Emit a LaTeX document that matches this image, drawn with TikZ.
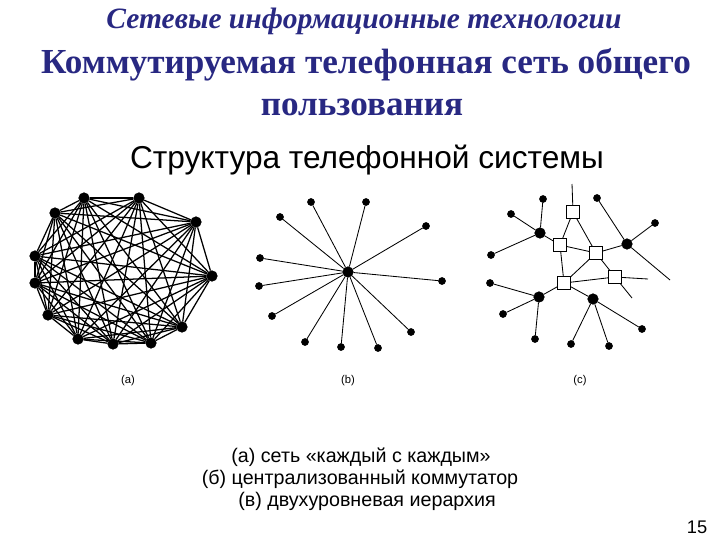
\documentclass[tikz,border=0pt]{standalone}
\usepackage{fontspec}
\setmainfont{Liberation Serif}
\setsansfont{Liberation Sans}
\definecolor{titleblue}{RGB}{40,40,130}

\begin{document}
\begin{tikzpicture}[x=0.025cm,y=-0.025cm]

    \tikzset{bigdot/.style={draw,shape=circle,fill=black,inner sep=0pt,minimum size=7.5pt},
             smalldot/.style={draw,shape=circle,fill=black,inner sep=0pt,minimum size=5pt},
             switchbox/.style={draw,fill=white,shape=rectangle,inner sep=0pt,minimum size=9pt},
             titletext/.style={font=\bfseries,text=titleblue},
             plaintext/.style={font=\sffamily}}
    \useasboundingbox (0,0) rectangle (720,540);

    % titles
    \node[titletext,font=\bfseries\itshape\fontsize{21}{24}\selectfont] (t1) at (364,21) {Сетевые информационные технологии};
    \node[titletext,font=\bfseries\fontsize{25}{28}\selectfont] (t2) at (366,65) {Коммутируемая телефонная сеть общего};
    \node[titletext,font=\bfseries\fontsize{25}{28}\selectfont] (t3) at (362,107) {пользования};
    \node[plaintext,font=\sffamily\fontsize{22.5}{26}\selectfont] (t4) at (367,160) {Структура телефонной системы};

    % (a)
    \node[bigdot] (a1) at (84,198) {};
    \node[bigdot] (a2) at (139,198) {};
    \node[bigdot] (a3) at (196,222) {};
    \node[bigdot] (a4) at (212,276) {};
    \node[bigdot] (a5) at (182,327) {};
    \node[bigdot] (a6) at (151,343) {};
    \node[bigdot] (a7) at (113,344) {};
    \node[bigdot] (a8) at (78,339) {};
    \node[bigdot] (a9) at (48,315) {};
    \node[bigdot] (a10) at (35,283) {};
    \node[bigdot] (a11) at (35,256) {};
    \node[bigdot] (a12) at (55,213) {};
    \begin{scope}[every path/.style={line width=0.9pt}]
        \foreach \i in {1,...,11}{
            \pgfmathtruncatemacro\k{\i+1}
            \foreach \j in {\k,...,12}
                \draw (a\i) -- (a\j);
        }
    \end{scope}

    % (b)
    \node[bigdot] (b0) at (348,272) {};
    \node[smalldot] (b1) at (311,202) {};
    \node[smalldot] (b2) at (366,202) {};
    \node[smalldot] (b3) at (426,226) {};
    \node[smalldot] (b4) at (442,281) {};
    \node[smalldot] (b5) at (411,332) {};
    \node[smalldot] (b6) at (378,348) {};
    \node[smalldot] (b7) at (341,347) {};
    \node[smalldot] (b8) at (305,342) {};
    \node[smalldot] (b9) at (272,316) {};
    \node[smalldot] (b10) at (259,286) {};
    \node[smalldot] (b11) at (260,258) {};
    \node[smalldot] (b12) at (280,217) {};
    \foreach \i in {1,...,12}
        \draw[line width=0.6pt] (b0) -- (b\i);

    % (c)
    \node[switchbox] (s1) at (573,212) {};
    \node[switchbox] (s2) at (560,245) {};
    \node[switchbox] (s3) at (596,253) {};
    \node[switchbox] (s4) at (615,277) {};
    \node[switchbox] (s5) at (564,283) {};
    \node[bigdot] (c1) at (540,233) {};
    \node[bigdot] (c2) at (627,244) {};
    \node[bigdot] (c3) at (539,297) {};
    \node[bigdot] (c4) at (593,299) {};
    \node[smalldot] (c11) at (543,199) {};
    \node[smalldot] (c12) at (511,214) {};
    \node[smalldot] (c13) at (491,255) {};
    \node[smalldot] (c21) at (597,198) {};
    \node[smalldot] (c22) at (655,223) {};
    \node[smalldot] (c31) at (490,283) {};
    \node[smalldot] (c32) at (503,314) {};
    \node[smalldot] (c33) at (535,339) {};
    \node[smalldot] (c41) at (571,344) {};
    \node[smalldot] (c42) at (609,346) {};
    \node[smalldot] (c43) at (642,329) {};
    \coordinate (e1) at (572,184);
    \coordinate (e2) at (670,280);
    \coordinate (e3) at (648,279);
    \coordinate (e4) at (632,298);

    \begin{scope}[every path/.style={line width=0.6pt}]
        \draw (e1) -- (s1);
        \draw (s1) -- (s2);
        \draw (s1) -- (s3);
        \draw (s2) -- (s3);
        \draw (s2) -- (s5);
        \draw (s3) -- (s5);
        \draw (s3) -- (s4);
        \draw (s5) -- (s4);
        \draw (s4) -- (e3);
        \draw (s4) -- (e4);
        \draw (s2) -- (c1);
        \draw (s3) -- (c2);
        \draw (s5) -- (c3);
        \draw (s5) -- (c4);
        \draw (c2) -- (c21);
        \draw (c2) -- (c22);
        \draw (c2) -- (e2);
        \foreach \j in {1,2,3}{
            \draw (c1) -- (c1\j);
            \draw (c3) -- (c3\j);
            \draw (c4) -- (c4\j);
        }
    \end{scope}
    % redraw boxes on top
    \foreach \i in {1,...,5}
        \node[switchbox] at (s\i) {};

    % labels
    \node[plaintext,font=\sffamily\fontsize{8}{10}\selectfont] (la) at (128,381) {(a)};
    \node[plaintext,font=\sffamily\fontsize{8}{10}\selectfont] (lb) at (348,381) {(b)};
    \node[plaintext,font=\sffamily\fontsize{8}{10}\selectfont] (lc) at (580,381) {(c)};

    \node[plaintext,font=\sffamily\fontsize{14}{16}\selectfont] (k1) at (361,457) {(а) сеть «каждый с каждым»};
    \node[plaintext,font=\sffamily\fontsize{14}{16}\selectfont] (k2) at (360,479) {(б) централизованный коммутатор};
    \node[plaintext,font=\sffamily\fontsize{14}{16}\selectfont] (k3) at (367,501) {(в) двухуровневая иерархия};
    \node[plaintext,font=\sffamily\fontsize{13}{15}\selectfont] (pg) at (697,527) {15};
\end{tikzpicture}
\end{document}
